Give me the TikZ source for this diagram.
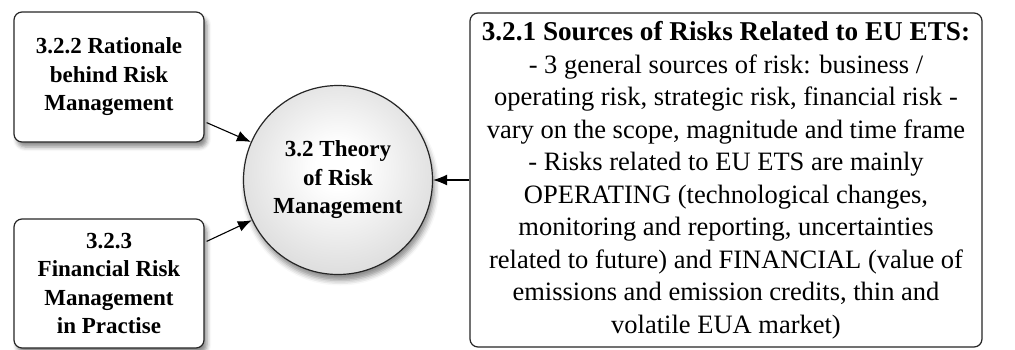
\documentclass[tikz,border=0pt]{standalone}
\usepackage{fontspec}
\setmainfont{Liberation Serif}
\usetikzlibrary{arrows.meta,shadows.blur,calc}
% soft grey ball: white in the middle, light grey at the rim
\pgfdeclareradialshading{ballgrey}{\pgfpoint{0bp}{4bp}}{%
  color(0bp)=(white); color(6bp)=(white); color(50bp)=(black!27); color(60bp)=(black!27)}
\begin{document}
\begin{tikzpicture}[x=1pt,y=-1pt,
  topicbox/.style={draw=black!85, line width=1.2pt, rounded corners=8pt, fill=white,
    align=center, inner sep=0pt,
    blur shadow={shadow xshift=3pt, shadow yshift=-5pt, shadow blur radius=4pt, shadow opacity=45},
    font=\bfseries\fontsize{23}{28.5}\selectfont},
  theory/.style={circle, draw=black!85, line width=1.2pt, inner sep=0pt,
    minimum size=189pt, align=center,
    shading=ballgrey,
    blur shadow={shadow xshift=2pt, shadow yshift=-6pt, shadow blur radius=5pt, shadow opacity=45},
    font=\bfseries\fontsize{23}{28.5}\selectfont},
  sourcebox/.style={draw=black!85, line width=1.2pt, rounded corners=8pt, fill=white,
    align=center, inner sep=0pt,
    font=\fontsize{26.5}{32.5}\selectfont},
  link/.style={line width=1.1pt, -{Latex[length=14pt,width=11pt]}}]
\useasboundingbox (0,0) rectangle (1015,349);

\node[topicbox, minimum width=190pt, minimum height=130pt] (b1) at (109,77)
  {3.2.2 Rationale\\behind Risk\\Management};
\node[topicbox, minimum width=190pt, minimum height=129pt] (b2) at (109,283.5)
  {3.2.3\\Financial Risk\\Management\\in Practise};
\node[theory] (circ) at (338,180) {3.2 Theory\\of Risk\\Management};
\node[sourcebox, minimum width=512pt, minimum height=334pt] (src) at (726,180)
  {{\bfseries\fontsize{27.2}{32.5}\selectfont 3.2.1 Sources of Risks Related to EU ETS:}\\
   - 3 general sources of risk: business /\\
   operating risk, strategic risk, financial risk -\\
   vary on the scope, magnitude and time frame\\
   - Risks related to EU ETS are mainly\\
   OPERATING (technological changes,\\
   monitoring and reporting, uncertainties\\
   related to future) and FINANCIAL (value of\\
   emissions and emission credits, thin and\\
   volatile EUA market)};

\draw[link] ($(b1.south east)+(2,-20)$) -- (circ);
\draw[link] ($(b2.north east)+(2,23)$) -- (circ);
\draw[link] (src) -- (circ);
\end{tikzpicture}
\end{document}
